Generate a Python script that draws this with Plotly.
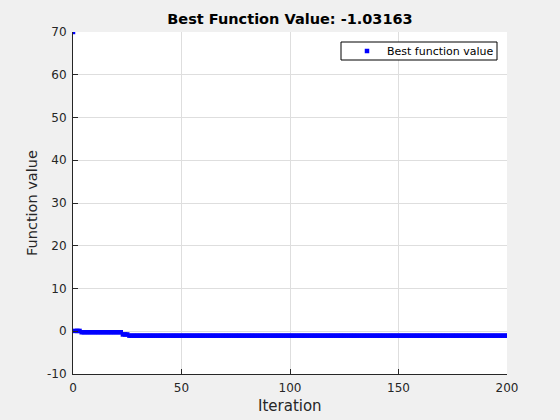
import plotly.graph_objects as go

# Best function value per iteration, stored as run-length segments
seg_values = [70.0, 0.08, -0.23, -0.75, -1.03163]
seg_lengths = [1, 3, 19, 3, 175]

iterations = []
values = []
it = 0
for v, n in zip(seg_values, seg_lengths):
    for _ in range(n):
        iterations.append(it)
        values.append(v)
        it += 1

title_text = "Best Function Value: -1.03163"
x_label = "Iteration"
y_label = "Function value"
x_ticks = [0, 50, 100, 150, 200]
y_ticks = [-10, 0, 10, 20, 30, 40, 50, 60, 70]
y_tick_labels = ["-10", "0", "10", "20", "30", "40", "50", "60", "70"]

# plot area in pixels: x 73..507, y 32..374
L, R, T, B = 73, 507, 32, 374
W, H = R - L, B - T

def px(xp):
    return (xp - L) / W

def py(yp):
    return (B - yp) / H

fig = go.Figure()
fig.add_trace(go.Scatter(
    x=iterations, y=values, mode="markers",
    marker=dict(symbol="square", size=4.5, color="#0000ff", line=dict(width=0)),
    name="Best function value",
))

font_family = "DejaVu Sans, Liberation Sans, sans-serif"
fig.update_layout(
    width=560, height=420,
    paper_bgcolor="#f0f0f0", plot_bgcolor="#ffffff",
    margin=dict(l=L, r=560 - R, t=T, b=420 - B, autoexpand=False),
    font=dict(family=font_family, color="#262626", size=12),
    title=dict(text="<b>" + title_text + "</b>", x=(L + W / 2) / 560, xanchor="center",
               y=1 - 19 / 420, yanchor="middle", font=dict(size=14.5, color="#000000"),
               automargin=False),
    showlegend=True,
    legend=dict(x=px(347), xanchor="left", y=py(51), yanchor="middle",
                bgcolor="rgba(0,0,0,0)", borderwidth=0,
                font=dict(size=11, color="#000000"), tracegroupgap=0),
    shapes=[dict(type="rect", xref="paper", yref="paper", layer="above",
                 x0=px(341), x1=px(497), y0=py(60), y1=py(42),
                 fillcolor="#ffffff", line=dict(color="#000000", width=1))],
    annotations=[
        dict(text=x_label, xref="paper", yref="paper", x=0.5, y=py(406),
             xanchor="center", yanchor="middle", showarrow=False,
             font=dict(size=15, color="#262626")),
        dict(text=y_label, xref="paper", yref="paper", x=px(32), y=0.5,
             xanchor="center", yanchor="middle", showarrow=False, textangle=-90,
             font=dict(size=14.5, color="#262626")),
    ],
    xaxis=dict(range=[0, 200], tickvals=x_ticks, showgrid=True, gridcolor="#dedede",
               gridwidth=1, zeroline=False, showline=True, linecolor="#262626",
               linewidth=1, ticks="inside", ticklen=5, tickcolor="#262626",
               automargin=False, ticklabelstandoff=3),
    yaxis=dict(range=[-10, 70], tickvals=y_ticks, ticktext=y_tick_labels,
               showgrid=True, gridcolor="#dedede",
               gridwidth=1, zeroline=False, showline=True, linecolor="#262626",
               linewidth=1, ticks="inside", ticklen=5, tickcolor="#262626",
               automargin=False, ticklabelstandoff=3),
)

fig.write_html("out.html", config={"displayModeBar": False},
               post_script="document.body.style.margin='0';document.body.style.background='#f0f0f0';")
